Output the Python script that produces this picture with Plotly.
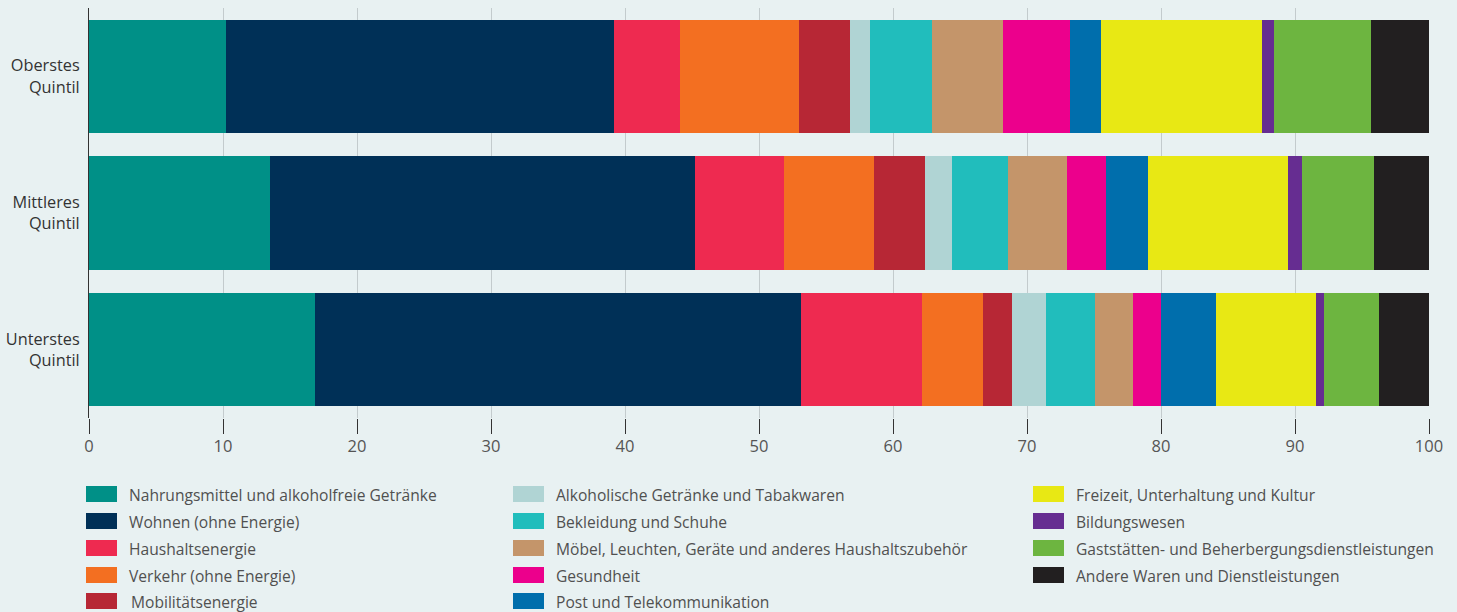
import plotly.graph_objects as go

quintiles = ["Oberstes<br>Quintil", "Mittleres<br>Quintil", "Unterstes<br>Quintil"]

categories = [
    "Nahrungsmittel und alkoholfreie Getränke",
    "Wohnen (ohne Energie)",
    "Haushaltsenergie",
    "Verkehr (ohne Energie)",
    "Mobilitätsenergie",
    "Alkoholische Getränke und Tabakwaren",
    "Bekleidung und Schuhe",
    "Möbel, Leuchten, Geräte und anderes Haushaltszubehör",
    "Gesundheit",
    "Post und Telekommunikation",
    "Freizeit, Unterhaltung und Kultur",
    "Bildungswesen",
    "Gaststätten- und Beherbergungsdienstleistungen",
    "Andere Waren und Dienstleistungen",
]

oberstes = [10.2, 29.0, 4.9, 8.9, 3.8, 1.5, 4.6, 5.3, 5.0, 2.3, 12.0, 0.9, 7.3, 4.3]
mittleres = [13.5, 31.7, 6.7, 6.7, 3.8, 2.0, 4.2, 4.4, 2.9, 3.1, 10.5, 1.0, 5.4, 4.1]
unterstes = [16.9, 36.2, 9.1, 4.5, 2.2, 2.5, 3.7, 2.8, 2.1, 4.1, 7.5, 0.6, 4.1, 3.7]

colors = [
    "#009087", "#003057", "#ee2a50", "#f36f21", "#b72735",
    "#b0d4d4", "#21bdbc", "#c4956a", "#ec008c", "#006eac",
    "#e8e814", "#662d91", "#6db540", "#221f20",
]

x_ticks = [0, 10, 20, 30, 40, 50, 60, 70, 80, 90, 100]

BG = "#e8f1f2"
FONT = "Open Sans"

fig = go.Figure()
for i, cat in enumerate(categories):
    fig.add_trace(go.Bar(
        y=quintiles,
        x=[oberstes[i], mittleres[i], unterstes[i]],
        name=cat,
        orientation="h",
        marker=dict(color=colors[i], line=dict(width=0)),
        showlegend=False,
        hoverinfo="name+x",
    ))

# plot area in pixels
L, R, T, B = 89, 1429, 8, 418
W, H = R - L, B - T

def px_x(p):
    return (p - L) / W

def px_y(p):
    return (B - p) / H

shapes = []
annotations = []
col_swatch_x = [86, 513, 1033]
col_text_x = [127, 554, 1074]
row_y = [494, 521, 548, 575, 601]
rows_per_col = [5, 5, 4]
idx = 0
for c, nrows in enumerate(rows_per_col):
    for r in range(nrows):
        cy = row_y[r]
        sx = col_swatch_x[c]
        shapes.append(dict(
            type="rect", xref="paper", yref="paper",
            x0=px_x(sx), x1=px_x(sx + 31),
            y0=px_y(cy + 8), y1=px_y(cy - 8),
            fillcolor=colors[idx], line=dict(width=0), layer="above",
        ))
        annotations.append(dict(
            text=categories[idx], xref="paper", yref="paper",
            x=px_x(col_text_x[c] + (2 if (c == 0 and r == 4) else 0)),
            y=px_y(cy + 1), xanchor="left", yanchor="middle",
            showarrow=False,
            font=dict(family=FONT, size=15.6, color="#505050"),
        ))
        idx += 1

fig.update_layout(
    barmode="stack",
    bargap=0.17,
    width=1457, height=612,
    margin=dict(l=L, r=1457 - R, t=T, b=612 - B, autoexpand=False),
    paper_bgcolor=BG, plot_bgcolor=BG,
    font=dict(family=FONT, size=15, color="#333333"),
    shapes=shapes,
    annotations=annotations,
    showlegend=False,
)
fig.update_xaxes(
    range=[0, 100], tickvals=x_ticks, ticktext=[str(v) for v in x_ticks],
    showgrid=True, gridcolor="#c3cbcd", gridwidth=1,
    zeroline=False, showline=False,
    ticks="outside", ticklen=15, tickcolor="#333333", tickwidth=1,
    tickfont=dict(family=FONT, size=16.5, color="#555555"),
    ticklabelstandoff=-2,
    fixedrange=True, automargin=False,
)
fig.update_yaxes(
    autorange="reversed",
    showgrid=False, zeroline=False,
    showline=True, linecolor="#333333", linewidth=1,
    ticks="", ticklabelstandoff=5,
    tickfont=dict(family=FONT, size=16.3, color="#333333"),
    fixedrange=True, automargin=False,
)

fig.write_html(
    "out.html",
    config={"displayModeBar": False},
    post_script="document.body.style.margin='0';document.body.style.overflow='hidden';",
)
